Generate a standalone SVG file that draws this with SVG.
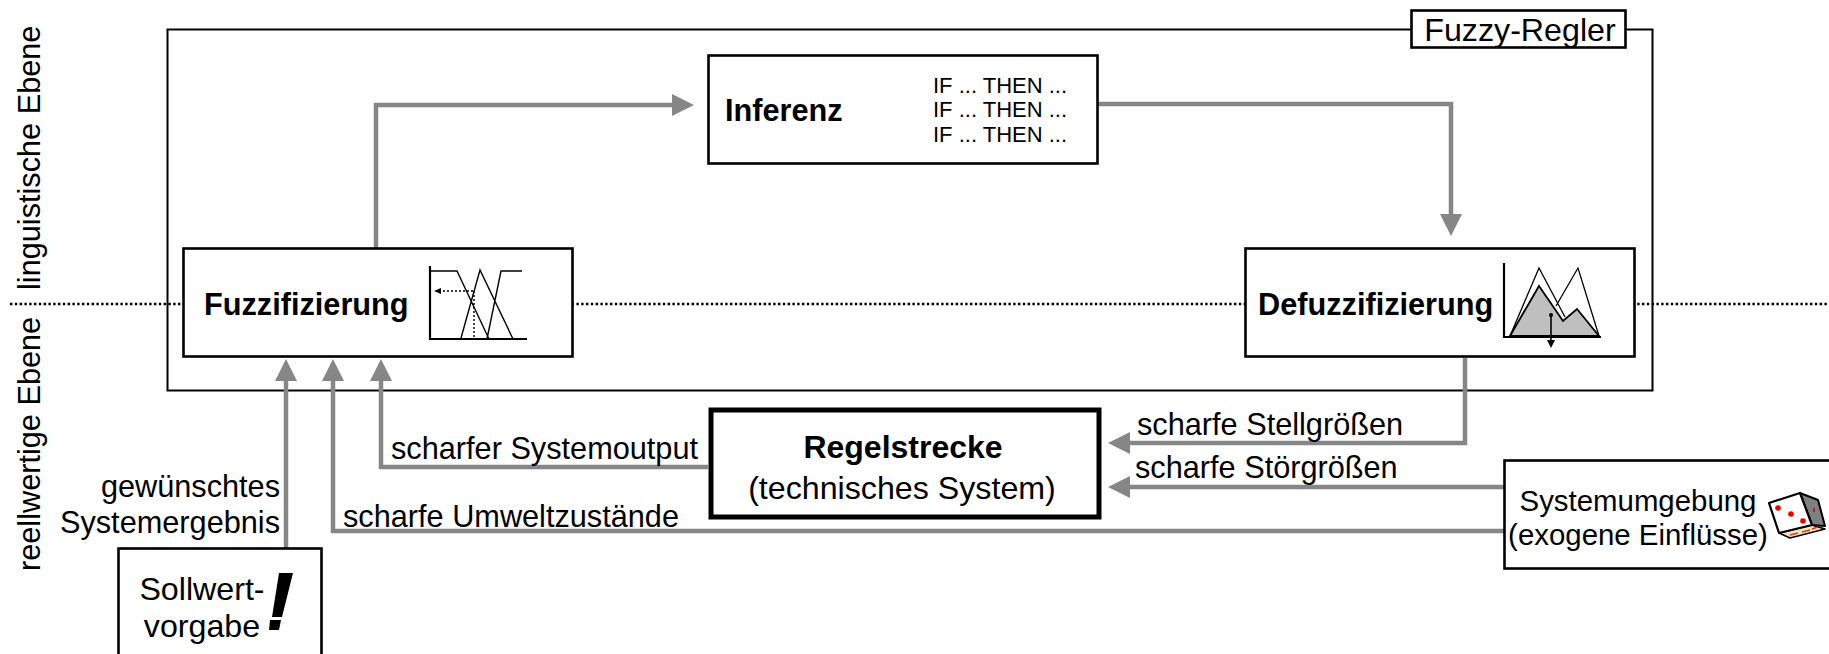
<svg xmlns="http://www.w3.org/2000/svg" width="1829" height="654" viewBox="0 0 1829 654">
<style>
text{font-family:"Liberation Sans",Arial,sans-serif;fill:#000}
.l{font-size:30.700px}
.h{font-size:32.200px}
.y{font-size:29.400px}
.b{font-size:30.700px;font-weight:bold}
.r{font-size:32px;font-weight:bold}
.s{font-size:22px}
.box{fill:#fff;stroke:#000;stroke-width:2.6}
.c{fill:none;stroke:#868686;stroke-width:4.500}
.k{fill:none;stroke:#000}
</style>
<defs>
<marker id="a" markerUnits="userSpaceOnUse" markerWidth="24" markerHeight="24" refX="4" refY="11" orient="auto"><path d="M0 0L22 11L0 22Z" fill="#868686"/></marker>
</defs>
<path id="ebene" d="M10 304H1829" fill="none" stroke="#000" stroke-width="2.4" stroke-dasharray="2.4 2.4"/>
<g id="fuzzy-regler">
<rect x="167.500" y="29.500" width="1485" height="361" fill="none" stroke="#000" stroke-width="2"/>
<rect x="1411.500" y="10.500" width="214" height="37" class="box"/>
<text x="1520" y="41" class="h" text-anchor="middle">Fuzzy-Regler</text>
</g>
<g id="connectors">
<path class="c" d="M376 248V105H676" marker-end="url(#a)"/>
<path class="c" d="M1097 104H1451V218" marker-end="url(#a)"/>
<path class="c" d="M1465 358V443H1126" marker-end="url(#a)"/>
<path class="c" d="M1504 487H1126" marker-end="url(#a)"/>
<path class="c" d="M1504 531H333V377" marker-end="url(#a)"/>
<path class="c" d="M708 467H381V377" marker-end="url(#a)"/>
<path class="c" d="M286 548V377" marker-end="url(#a)"/>
</g>
<g id="inferenz">
<rect x="708.500" y="55.500" width="389" height="108" class="box"/>
<text x="725" y="121" class="b">Inferenz</text>
<text x="933" y="93" class="s">IF ... THEN ...</text>
<text x="933" y="117" class="s">IF ... THEN ...</text>
<text x="933" y="142" class="s">IF ... THEN ...</text>
</g>
<g id="fuzzifizierung">
<rect x="183.500" y="248.500" width="389" height="108" class="box"/>
<text x="204" y="315" class="b">Fuzzifizierung</text>
<path class="k" stroke-width="2.2" d="M430 266V339H527"/>
<path class="k" stroke-width="1.4" d="M431 271H457L489 339M461 338L480 270L513 339M487 339L501 271H522"/>
<path class="k" stroke-width="1.4" stroke-dasharray="2 2" d="M473 291H438M474 291V338"/>
<path d="M434 291L441 288V294Z" fill="#000"/>
</g>
<g id="defuzzifizierung">
<rect x="1245.500" y="248.500" width="389" height="108" class="box"/>
<text x="1258" y="315" class="b">Defuzzifizierung</text>
<path d="M1510 336L1539 286L1563 321L1577 309L1599 336Z" fill="#bfbfbf" stroke="#000" stroke-width="1.800"/>
<path class="k" stroke-width="1.300" d="M1510 336L1539 268L1565 317M1556 306L1578 268L1599 336"/>
<path class="k" stroke-width="2.200" d="M1504 263V337H1601"/>
<circle cx="1551" cy="315" r="2" fill="#000"/>
<path class="k" stroke-width="1.600" d="M1551 315V342"/>
<path d="M1547 340H1555L1551 348Z" fill="#000"/>
</g>
<g id="regelstrecke">
<rect x="711" y="410" width="388" height="107" fill="#fff" stroke="#000" stroke-width="5"/>
<text x="903" y="458" class="r" text-anchor="middle">Regelstrecke</text>
<text x="902" y="499" class="h" text-anchor="middle">(technisches System)</text>
</g>
<g id="systemumgebung">
<rect x="1504.500" y="460.500" width="330" height="108" class="box"/>
<text x="1638" y="511" class="y" text-anchor="middle">Systemumgebung</text>
<text x="1638" y="545" class="y" text-anchor="middle">(exogene Einflüsse)</text>
<g stroke-linejoin="round">
<path d="M1779 533L1812 525L1825 529L1790 538Z" fill="#f5e6b8" stroke="#000" stroke-width="1.500"/>
<path d="M1800 493L1818 500L1825 526L1812 525Z" fill="#808080" stroke="#000" stroke-width="2"/>
<path d="M1769 503L1800 493L1812 525L1779 533Z" fill="#fff" stroke="#000" stroke-width="2.200"/>
</g>
<circle cx="1778" cy="508" r="2.800" fill="#e00"/><circle cx="1791" cy="514" r="2.800" fill="#e00"/><circle cx="1803" cy="521" r="2.800" fill="#e00"/>
<path d="M1814 508V512" stroke="#c00" stroke-width="1.500"/>
<path d="M1790 535L1798 533M1802 532L1810 530M1812 529L1818 527" stroke="#d33" stroke-width="1.500"/>
</g>
<g id="sollwert">
<rect x="118.500" y="548.500" width="203" height="110" class="box"/>
<text x="202" y="600" class="h" text-anchor="middle">Sollwert-</text>
<text x="202" y="637" class="h" text-anchor="middle">vorgabe</text>
<path d="M279 573H293L282 617H272Z" fill="#000"/><path d="M270 620H281L279 630H269Z" fill="#000"/>
</g>
<g id="labels">
<text x="280" y="497" class="l" text-anchor="end">gewünschtes</text>
<text x="280" y="533" class="l" text-anchor="end">Systemergebnis</text>
<text x="343" y="527" class="l">scharfe Umweltzustände</text>
<text x="391" y="459" class="l">scharfer Systemoutput</text>
<text x="1137" y="435" class="l">scharfe Stellgrößen</text>
<text x="1135" y="478" class="l">scharfe Störgrößen</text>
<text transform="translate(40 290) rotate(-90)" class="l">linguistische Ebene</text>
<text transform="translate(40 571) rotate(-90)" class="l">reellwertige Ebene</text>
</g>
</svg>
